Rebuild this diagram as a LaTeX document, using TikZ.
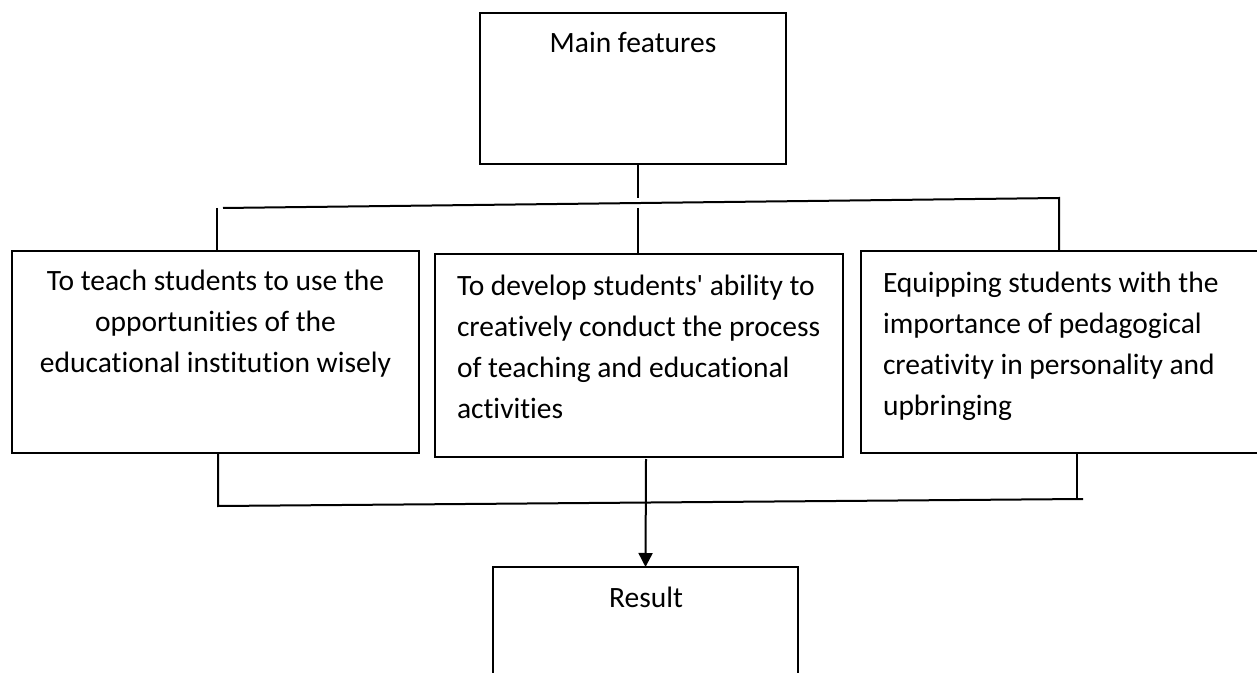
\documentclass[tikz,border=0pt]{standalone}
\usepackage{fontspec}
\setmainfont{Carlito}[Ligatures={TeX,NoCommon}]
\usetikzlibrary{positioning, arrows.meta}

\begin{document}
\begin{tikzpicture}[x=0.5pt, y=-0.5pt, line width=1pt,
  box/.style={draw, rectangle, inner sep=0pt, outer sep=0pt},
  txt/.style={inner sep=0pt, font=\fontsize{14.75}{20.5}\selectfont}]
  \fill[white] (0,0) rectangle (1257,673);
  \clip (0,0) rectangle (1257,673);
  % boxes
  \node[box, minimum width=153pt, minimum height=75.5pt] (main) at (633,88.5) {};
  \node[txt, anchor=base] (mainlbl) at (633,53) {Main features};
  \node[box, minimum width=203.5pt, minimum height=101pt] (teach) at (215.5,352) {};
  \node[txt, align=center, anchor=north] (teachlbl) at (215.5,269)
    {To teach students to use the\\opportunities of the\\educational institution wisely};
  \node[box, minimum width=204pt, minimum height=101.5pt] (dev) at (639,355.5) {};
  \node[txt, align=left, anchor=north west] (devlbl) at (456,274)
    {To develop students\textquotesingle{} ability to\\creatively conduct the process\\of teaching and educational\\activities};
  \node[box, minimum width=214.5pt, minimum height=101pt] (equip) at (1075.5,352) {};
  \node[txt, align=left, anchor=north west] (equiplbl) at (882,271)
    {Equipping students with the\\importance of pedagogical\\creativity in personality and\\upbringing};
  \node[box, minimum width=152.5pt, minimum height=66.5pt] (result) at (645.5,633.5) {};
  \node[txt, anchor=base] (resultlbl) at (646,607) {Result};
  % upper lines
  \coordinate (jt) at (638,198);
  \coordinate (bl) at (223,208);
  \coordinate (br) at (1059,198);
  \coordinate (tl) at (217,208);
  \coordinate (tm) at (638,208);
  \draw (jt |- main.south) -- (jt);
  \draw (bl) -- (br) -- (br |- equip.north);
  \draw (tl) -- (tl |- teach.north);
  \draw (tm) -- (tm |- dev.north);
  % lower lines
  \coordinate (bl2) at (218,506);
  \coordinate (br2) at (1083,499);
  \coordinate (rb) at (1077,499);
  \coordinate (ab) at (646,459);
  \draw (bl2 |- teach.south) -- (bl2) -- (br2);
  \draw (rb |- equip.south) -- (rb);
  \draw[-{Triangle[width=7pt, length=7pt]}] (ab) -- (result.north);
\end{tikzpicture}
\end{document}
